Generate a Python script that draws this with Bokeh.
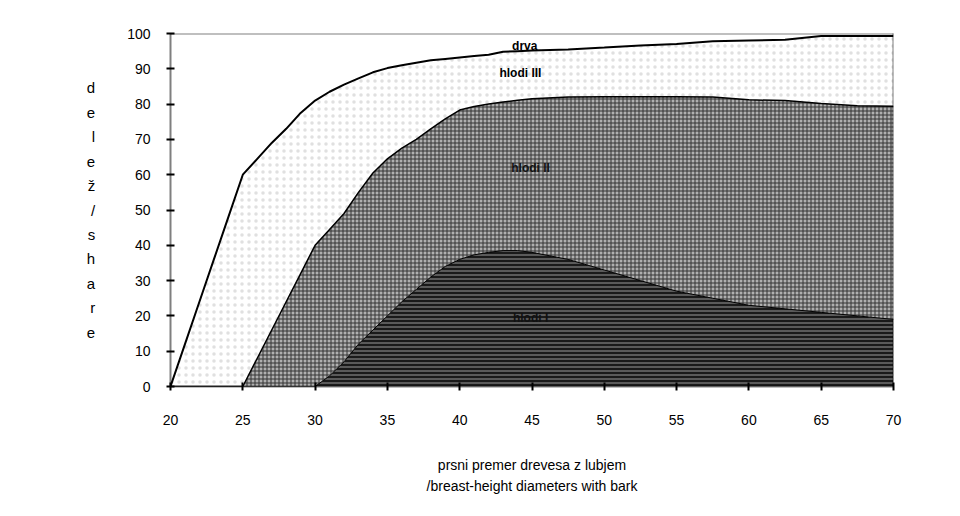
from bokeh.plotting import figure
from bokeh.models import ColumnDataSource, Range1d, FixedTicker, Label, Span
from bokeh.embed import file_html
from bokeh.resources import INLINE

# breast-height diameter (cm)
diameter = [20, 21, 22, 23, 24, 25, 26, 27, 28, 29, 30, 31, 32, 33, 34, 35, 36, 37, 38, 39,
            40, 41, 42, 43, 44, 45, 47.5, 50, 52.5, 55, 57.5, 60, 62.5, 65, 67.5, 70]
# cumulative shares (%), bottom class first
cum_class1 = [0, 0, 0, 0, 0, 0, 0, 0, 0, 0, 0, 3, 7, 12, 16, 20, 24, 27.5, 31, 34,
              36, 37.3, 38, 38.5, 38.5, 38, 36, 33, 30, 27, 25, 23, 22, 21, 20, 19]
cum_class2 = [0, 0, 0, 0, 0, 0, 8, 16, 24, 32, 40, 44.5, 49, 55, 60.5, 64.5, 67.5, 70, 73, 75.8,
              78.3, 79.3, 80, 80.6, 81.1, 81.5, 82, 82.1, 82.1, 82.1, 82, 81.2, 81, 80.2, 79.5, 79.4]
cum_class3 = [0, 12, 24, 36, 48, 60, 64.5, 69, 73, 77.5, 81, 83.5, 85.5, 87.3, 89, 90.2, 91, 91.7, 92.4, 92.8,
              93.2, 93.6, 94, 94.8, 95, 95.2, 95.5, 96, 96.6, 97, 97.8, 98, 98.2, 99.3, 99.3, 99.3]
cum_total = [100] * len(diameter)

class_names = ["hlodi I", "hlodi II", "hlodi III", "drva"]
label_x = [44.9, 44.9, 44.2, 44.5]
label_y = [19.3, 61.8, 88.7, 96.6]

x_ticks = [20, 25, 30, 35, 40, 45, 50, 55, 60, 65, 70]
y_ticks = [0, 10, 20, 30, 40, 50, 60, 70, 80, 90, 100]

src = ColumnDataSource(dict(x=diameter, c0=[0] * len(diameter), c1=cum_class1,
                            c2=cum_class2, c3=cum_class3, c4=cum_total))

FONT = "Liberation Sans"

p = figure(width=933, height=506, output_backend="svg", toolbar_location=None,
           x_range=Range1d(20, 70), y_range=Range1d(0, 100),
           min_border_left=170, min_border_top=33, min_border_right=40, min_border_bottom=120)
p.frame_width = 723
p.frame_height = 353
p.grid.visible = False
p.background_fill_color = "white"
p.border_fill_color = "white"
p.outline_line_color = None

# layers
p.varea(x="x", y1="c3", y2="c4", source=src, fill_color="white")
p.varea(x="x", y1="c2", y2="c3", source=src, fill_color="white",
        hatch_pattern="dot", hatch_color="black", hatch_alpha=0.12, hatch_scale=7)
p.varea(x="x", y1="c1", y2="c2", source=src, fill_color="#b0b0b0",
        hatch_pattern="+", hatch_color="#333333", hatch_scale=4, hatch_weight=1)
p.varea(x="x", y1="c0", y2="c1", source=src, fill_color="#1a1a1a",
        hatch_pattern="horizontal_line", hatch_color="#9a9a9a", hatch_scale=4, hatch_weight=1)

p.line(x="x", y="c3", source=src, line_color="black", line_width=2)
p.line(x="x", y="c2", source=src, line_color="black", line_width=1.5)
p.line(x="x", y="c1", source=src, line_color="black", line_width=1)
p.line(x="x", y="c4", source=src, line_color="black", line_width=2, line_dash="1 1")
p.add_layout(Span(location=70, dimension="height", line_color="black",
                  line_width=2, line_dash="1 1"))

label_colors = ["#111111", "#111111", "black", "black"]
for name, lx, ly, col in zip(class_names, label_x, label_y, label_colors):
    p.add_layout(Label(x=lx, y=ly, text=name, text_font=FONT, text_font_size="12px",
                       text_font_style="bold", text_color=col,
                       text_align="center", text_baseline="middle"))

# axes
p.xaxis.ticker = FixedTicker(ticks=x_ticks)
p.yaxis.ticker = FixedTicker(ticks=y_ticks)
for ax in (p.xaxis[0], p.yaxis[0]):
    ax.axis_line_color = "black"
    ax.axis_line_dash = "1 1"
    ax.axis_line_width = 2
    ax.major_tick_in = 4
    ax.major_tick_out = 4
    ax.major_tick_line_width = 2
    ax.minor_tick_line_color = None
    ax.major_label_text_font = FONT
    ax.major_label_text_font_size = "14px"
    ax.major_label_text_color = "black"
    ax.axis_label_text_font = FONT
    ax.axis_label_text_font_style = "normal"
    ax.axis_label_text_color = "black"

p.xaxis.major_label_standoff = 24
p.xaxis.axis_label = "prsni premer drevesa z lubjem\n/breast-height diameters with bark"
p.xaxis.axis_label_text_font_size = "14px"
p.xaxis.axis_label_standoff = 29
p.xaxis.axis_label_text_line_height = 1.35

p.yaxis.major_label_standoff = 16
p.yaxis.axis_label = "d\ne\nl\ne\nž\n/\ns\nh\na\nr\ne"
p.yaxis.axis_label_orientation = "horizontal"
p.yaxis.axis_label_text_font_size = "15px"
p.yaxis.axis_label_text_line_height = 1.44
p.yaxis.axis_label_standoff = 29

open("out.html", "w").write(file_html(p, INLINE))
